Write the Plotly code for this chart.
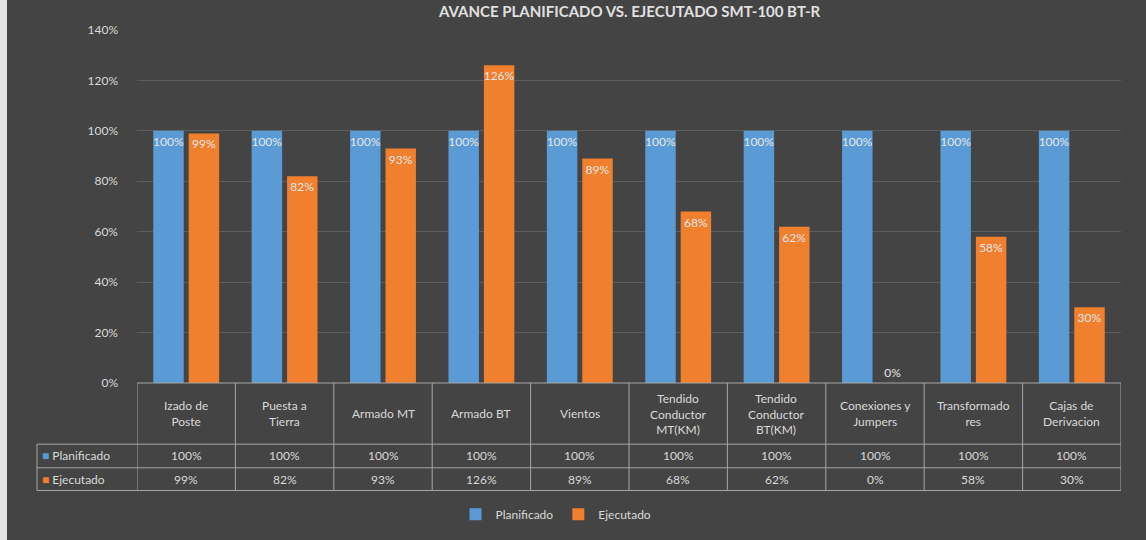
import plotly.graph_objects as go

# ---------------- data ----------------
categories = ["Izado de Poste", "Puesta a Tierra", "Armado MT", "Armado BT", "Vientos",
              "Tendido Conductor MT(KM)", "Tendido Conductor BT(KM)", "Conexiones y Jumpers",
              "Transformadores", "Cajas de Derivacion"]
header_labels = ["Izado de<br>Poste", "Puesta a<br>Tierra", "Armado MT", "Armado BT", "Vientos",
                 "Tendido<br>Conductor<br>MT(KM)", "Tendido<br>Conductor<br>BT(KM)",
                 "Conexiones y<br>Jumpers", "Transformado<br>res", "Cajas de<br>Derivacion"]
planificado = [1.00, 1.00, 1.00, 1.00, 1.00, 1.00, 1.00, 1.00, 1.00, 1.00]
ejecutado = [0.99, 0.82, 0.93, 1.26, 0.89, 0.68, 0.62, 0.00, 0.58, 0.30]
series_names = ["Planificado", "Ejecutado"]
y_ticks = [0, 0.2, 0.4, 0.6, 0.8, 1.0, 1.2, 1.4]
title_text = "AVANCE PLANIFICADO VS. EJECUTADO SMT-100 BT-R"

BLUE = "#5B9BD5"
ORANGE = "#F07F2E"
TXT = "#D9D9D9"
LINE = "#A6A6A6"
FONT = "Lato"

W, H = 1146, 540
ML, MR, MT, MB = 137, 25, 30, 152
PW, PH = W - ML - MR, H - MT - MB


def py(px):
    """pixel y (from top) -> paper y"""
    return (H - MB - px) / PH


def pxx(px):
    """pixel x -> paper x"""
    return (px - ML) / PW


def fmt(v):
    return f"{round(v * 100):d}%"


fig = go.Figure()
series = [planificado, ejecutado]
colors = [BLUE, ORANGE]
for name, vals, col in zip(series_names, series, colors):
    fig.add_trace(go.Bar(
        x=categories, y=vals, name=name,
        marker=dict(color=col, line=dict(width=0)),
        text=[fmt(v) for v in vals],
        textposition=["outside" if v == 0 else "inside" for v in vals],
        insidetextanchor="end",
        textangle=0,
        constraintext="none",
        textfont=dict(color="#E6E6E6", size=12, family=FONT),
        cliponaxis=False,
    ))

annotations = []
shapes = []

# header row with category labels
for c, lab in zip(categories, header_labels):
    annotations.append(dict(x=c, xref="x", y=py(419), yref="paper", text=lab,
                            showarrow=False, xanchor="center", yanchor="middle",
                            font=dict(color=TXT, size=12, family=FONT)))

# value rows
row_centers = [462, 485.5]
for name, vals, col, yc in zip(series_names, series, colors, row_centers):
    annotations.append(dict(x=pxx(40), xref="paper", y=py(yc), yref="paper",
                            text=f"<span style='color:{col}'>■</span> {name}",
                            showarrow=False, xanchor="left", yanchor="middle",
                            font=dict(color=TXT, size=12, family=FONT)))
    for c, v in zip(categories, vals):
        annotations.append(dict(x=c, xref="x", y=py(yc), yref="paper", text=fmt(v),
                                showarrow=False, xanchor="center", yanchor="middle",
                                font=dict(color=TXT, size=12, family=FONT)))

# table grid lines
n = len(categories)
for i in range(n + 1):
    shapes.append(dict(type="line", xref="x", yref="paper", x0=i - 0.5, x1=i - 0.5,
                       y0=py(388), y1=py(497), line=dict(color=LINE, width=1)))
for yy in [450, 474, 497]:
    shapes.append(dict(type="line", xref="paper", yref="paper", x0=pxx(37), x1=1,
                       y0=py(yy), y1=py(yy), line=dict(color=LINE, width=1)))
shapes.append(dict(type="line", xref="paper", yref="paper", x0=pxx(37), x1=pxx(37),
                   y0=py(450), y1=py(497), line=dict(color=LINE, width=1)))
shapes.append(dict(type="line", xref="paper", yref="paper", x0=0, x1=1,
                   y0=0, y1=0, line=dict(color=LINE, width=1)))
# light strip at left edge of picture
shapes.append(dict(type="rect", xref="paper", yref="paper", x0=pxx(0), x1=pxx(7),
                   y0=py(560), y1=py(-20), fillcolor="#E4E4E4", line=dict(width=0),
                   layer="below"))

# title
annotations.append(dict(x=0.5, xref="paper", y=py(0), yref="paper", text=f"<b>{title_text}</b>",
                        showarrow=False, xanchor="center", yanchor="top",
                        font=dict(color="#E0E0E0", size=15, family=FONT)))

fig.update_layout(
    width=W, height=H,
    margin=dict(l=ML, r=MR, t=MT, b=MB),
    paper_bgcolor="#444444", plot_bgcolor="rgba(0,0,0,0)",
    barmode="group", bargap=0.28, bargroupgap=0.14,
    font=dict(family=FONT, color=TXT),
    showlegend=True,
    legend=dict(orientation="h", x=pxx(556), xanchor="center", y=py(521), yanchor="middle",
                font=dict(color=TXT, size=12, family=FONT), bgcolor="rgba(0,0,0,0)",
                itemwidth=30),
    annotations=annotations, shapes=shapes,
)
fig.update_xaxes(showticklabels=False, showgrid=False, zeroline=False, showline=False,
                 range=[-0.5, n - 0.5], fixedrange=True)
fig.update_yaxes(range=[0, 1.4], tickvals=y_ticks, tickformat=".0%",
                 showgrid=True, gridcolor="#5C5C5C", gridwidth=1, zeroline=False,
                 tickfont=dict(color=TXT, size=12, family=FONT), ticks="", ticklabelstandoff=18)

fig.write_html("out.html", config={"displayModeBar": False},
               post_script="document.body.style.margin='0';document.body.style.overflow='hidden';")
